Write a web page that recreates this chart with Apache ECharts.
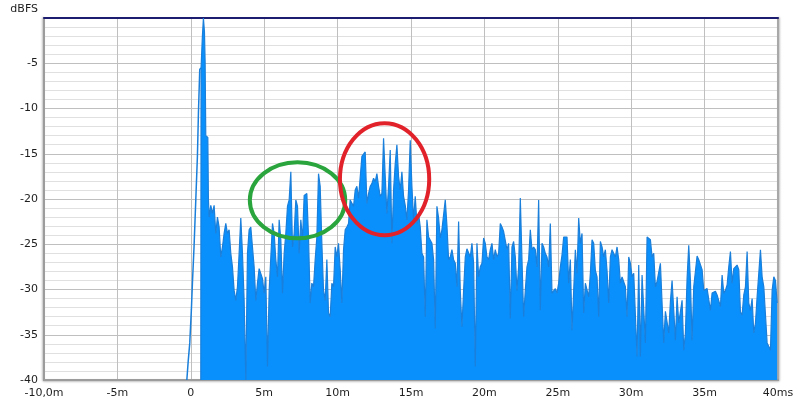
<!DOCTYPE html>
<html><head><meta charset="utf-8">
<script src="https://cdn.jsdelivr.net/npm/echarts@6/dist/echarts.min.js"></script>
<style>html,body{margin:0;padding:0;background:#fff}#c{width:800px;height:404px}</style>
</head><body><div id="c"></div>
<script>
// ---- axis ticks / labels ----
const xTicks = [-10, -5, 0, 5, 10, 15, 20, 25, 30, 35, 40];
const xTickLabels = ['-10,0m', '-5m', '0', '5m', '10m', '15m', '20m', '25m', '30m', '35m', '40ms'];
const yTicks = [-40, -35, -30, -25, -20, -15, -10, -5, 0];
const yTickLabels = ['-40', '-35', '-30', '-25', '-20', '-15', '-10', '-5', ''];

// ---- rising edge before the main impulse (ms, dBFS) ----
const onsetTimes = [-0.27, -0.18, -0.07, 0.04, 0.11, 0.22, 0.34, 0.45, 0.52, 0.61, 0.68];
const onsetDb = [-40, -38, -35.9, -32.2, -29.3, -25.3, -20.1, -15.3, -10.5, -5.7, -5.5];

// ---- main impulse peak (ms, dBFS) ----
const peakTimes = [0.68, 0.70, 0.79, 0.86, 0.93, 0.975, 1.02, 1.16, 1.20, 1.25];
const peakDb = [-40, -5.5, -2, 0, -1.5, -4.8, -13, -13.2, -20, -22];

// ---- reflections, read on a regular time grid ----
const sampleStep = 0.1136; // ms between readings
const segAStart = 1.361;
const segA = [-20.7,-21.6,-20.7,-23.8,-22.0,-23.1,-26.4,-25.3,-23.8,-22.7,-23.8,-23.4,-26.0,-27.5,-30.1,-31.2,-29.7,-26.0,-22.1,-26.0,
  -31.2,-40,-26.0,-23.4,-23.1,-25.3,-27.5,-31.2,-29.3,-27.7,-27.8,-28.8,-30.4,-28.6,-38.5,-30.1,-26.4,-22.7,-23.8,-26.7,
  -28.6,-22.3,-24.5,-30.4,-26.0,-23.8,-20.8,-20.1,-17.0,-25.3,-23.8,-20.1,-20.8,-26.0,-22.3,-24.5,-19.6,-19.4];
const segBStart = 7.905;
const segB = [-19.4,-24.2,-31.5,-29.3,-29.7,-26.7,-24.2,-17.2,-18.6,-24.9,-30.1,-31.2,-26.7,-32.6,-33.0,-29.3,-29.7,-25.3,-26.4,-24.9,
  -27.8,-31.5,-25.6,-23.4,-23.1,-22.7,-20.1,-20.1,-20.8,-19.0,-18.6,-19.9,-20.1,-15.3,-15.1,-14.8,-20.5,-19.4,-18.6,-18.3,
  -17.7,-18.1,-17.2,-18.6,-19.7,-19.4,-13.3,-17.5,-21.6,-18.6,-14.6,-24.9,-19.0,-16.1,-14.0,-17.5,-19.0,-17.0,-19.7,-20.7,
  -22.3,-19.0,-13.5,-18.6,-22.3,-19.7,-22.7,-21.6,-23.1,-26.0,-26.4,-33.0,-22.3];
const segCStart = 16.198;
const segC = [-24.2,-24.3,-24.9,-26.7,-34.3,-20.8,-22.1,-24.3,-23.4,-23.6,-20.1,-22.9,-26.7,-26.4,-25.6,-26.7,-27.1,-29.7,-22.5,-30.1,
  -34.1,-30.1,-26.4,-25.5,-25.3,-26.4,-24.9,-27.1,-38.5,-24.9,-28.6,-27.5,-27.1,-24.3,-24.9,-26.4,-26.7,-25.6,-24.9,-26.7,
  -25.6,-26.4,-26.0,-22.7,-23.1,-23.6,-23.8,-25.6,-24.9,-33.2,-25.3,-24.7,-26.4,-30.1,-27.5,-19.9,-26.7,-33.0,-30.1,-27.5,
  -26.7,-23.4,-25.6,-25.3,-25.6,-27.5,-20.1,-32.3,-24.9,-25.3,-26.0,-26.4];
const segDStart = 24.378;
const segD = [-27.5,-22.7,-30.4,-30.2,-29.9,-30.4,-29.3,-27.5,-26.2,-24.2,-24.2,-24.2,-29.3,-26.7,-34.5,-30.1,-25.6,-28.2,-22.1,-24.9,
  -23.8,-32.6,-29.3,-29.3,-30.8,-28.2,-24.5,-24.9,-27.9,-28.6,-33.0,-24.7,-25.3,-26.4,-25.6,-27.9,-31.5,-26.4,-25.6,-25.6,
  -26.4,-25.3,-26.7,-29.3,-28.6,-28.4,-29.7,-33.0,-26.4,-27.1,-28.6,-28.2,-28.4,-37.4,-27.3,-37.4,-28.4,-28.6,-35.9,-24.2,
  -24.0,-24.5,-26.4,-26.0,-29.7,-29.1,-29.3,-27.1,-27.1,-35.9,-32.4,-32.6];
const segEStart = 32.557;
const segE = [-34.8,-31.3,-29.0,-32.3,-35.6,-30.8,-33.7,-33.6,-31.2,-36.7,-34.8,-28.8,-25.1,-29.0,-35.6,-29.7,-29.7,-26.3,-26.7,-26.6,
  -27.8,-30.1,-29.9,-29.9,-29.9,-32.3,-30.4,-30.4,-30.2,-30.6,-30.4,-31.9,-28.4,-30.4,-30.1,-29.5,-27.5,-25.8,-29.3,-27.7,
  -27.7,-27.3,-27.8,-32.5,-32.8,-30.6,-29.7,-25.8,-31.5,-32.3,-31.0,-34.8,-33.7,-30.8,-30.6,-25.6,-28.6,-29.7,-29.7,-35.9,
  -36.3,-36.7,-30.1,-28.6,-29.0,-31.5];

// ---- annotation ellipses (data units: ms, dB) ----
const greenEllipse = {t: 7.27, db: -20.14, rt: 3.25, rdb: 4.2};
const redEllipse = {t: 13.2, db: -17.81, rt: 3.04, rdb: 6.19};

// ---- build series data ----
const onsetData = onsetTimes.map((t, i) => [t, onsetDb[i]]);
const areaData = peakTimes.map((t, i) => [t, peakDb[i]]);
[[segAStart, segA], [segBStart, segB], [segCStart, segC], [segDStart, segD], [segEStart, segE]].forEach(([s, arr]) => {
  arr.forEach((v, i) => areaData.push([+(s + i * sampleStep).toFixed(4), v]));
});

const FILL = '#0a90fc', LINE = '#1a7fda';
const font = {fontFamily: 'DejaVu Sans', fontSize: 11, color: '#1e1e1e'};

const chart = echarts.init(document.getElementById('c'), null, {renderer: 'canvas'});
chart.setOption({
  animation: false,
  backgroundColor: '#ffffff',
  grid: {left: 44, right: 22, top: 18, bottom: 24, containLabel: false, outerBoundsMode: 'none'},
  xAxis: [{
    type: 'value', min: -10, max: 40, interval: 5,
    axisLine: {show: true, onZero: false, lineStyle: {color: '#9c9c9c', width: 2, shadowColor: 'rgba(0,0,0,0.25)', shadowBlur: 2, shadowOffsetY: 1}},
    axisTick: {show: false},
    axisLabel: Object.assign({margin: 8, formatter: v => { const k = xTicks.indexOf(v); return k >= 0 ? xTickLabels[k] : ''; }}, font),
    splitLine: {show: true, lineStyle: {color: '#bfbfbf', width: 1}}
  }, {
    type: 'value', position: 'top', min: -10, max: 40, interval: 5,
    axisLine: {show: true, onZero: false, lineStyle: {color: '#1c1c70', width: 2}},
    axisTick: {show: false}, axisLabel: {show: false}, splitLine: {show: false}
  }],
  yAxis: [{
    type: 'value', min: -40, max: 0, interval: 5,
    name: 'dBFS', nameLocation: 'end', nameGap: 3,
    nameTextStyle: Object.assign({align: 'right', padding: [0, 6, 0, 0]}, font),
    axisLine: {show: true, onZero: false, lineStyle: {color: '#9c9c9c', width: 2, shadowColor: 'rgba(0,0,0,0.25)', shadowBlur: 2, shadowOffsetX: -1}},
    axisTick: {show: false},
    minorTick: {show: false, splitNumber: 5},
    minorSplitLine: {show: true, lineStyle: {color: '#e0e0e0', width: 1}},
    splitLine: {show: true, lineStyle: {color: '#bfbfbf', width: 1}},
    axisLabel: Object.assign({margin: 6, formatter: v => { const k = yTicks.indexOf(v); return k >= 0 ? yTickLabels[k] : ''; }}, font)
  }, {
    type: 'value', position: 'right', min: -40, max: 0, interval: 5,
    axisLine: {show: true, onZero: false, lineStyle: {color: '#a8a8a8', width: 2, shadowColor: 'rgba(0,0,0,0.25)', shadowBlur: 2, shadowOffsetX: 1}},
    axisTick: {show: false}, axisLabel: {show: false}, splitLine: {show: false}
  }],
  series: [{
    type: 'line', data: areaData, showSymbol: false, symbol: 'none',
    lineStyle: {color: LINE, width: 1.2}, itemStyle: {color: LINE},
    areaStyle: {color: FILL, opacity: 1, origin: 'start'},
    z: 3
  }, {
    type: 'line', data: onsetData, showSymbol: false, symbol: 'none',
    lineStyle: {color: LINE, width: 1.5}, itemStyle: {color: LINE}, z: 4
  }]
});

function ellipseGraphic(e, color) {
  const c = chart.convertToPixel({gridIndex: 0}, [e.t, e.db]);
  const px = chart.convertToPixel({gridIndex: 0}, [e.t + e.rt, e.db + e.rdb]);
  return {
    type: 'ellipse',
    shape: {cx: c[0], cy: c[1], rx: Math.abs(px[0] - c[0]), ry: Math.abs(c[1] - px[1])},
    style: {fill: 'none', stroke: color, lineWidth: 4},
    z: 100
  };
}
chart.setOption({graphic: [ellipseGraphic(greenEllipse, '#2aa43c'), ellipseGraphic(redEllipse, '#e2222a')]});
</script>
</body></html>
